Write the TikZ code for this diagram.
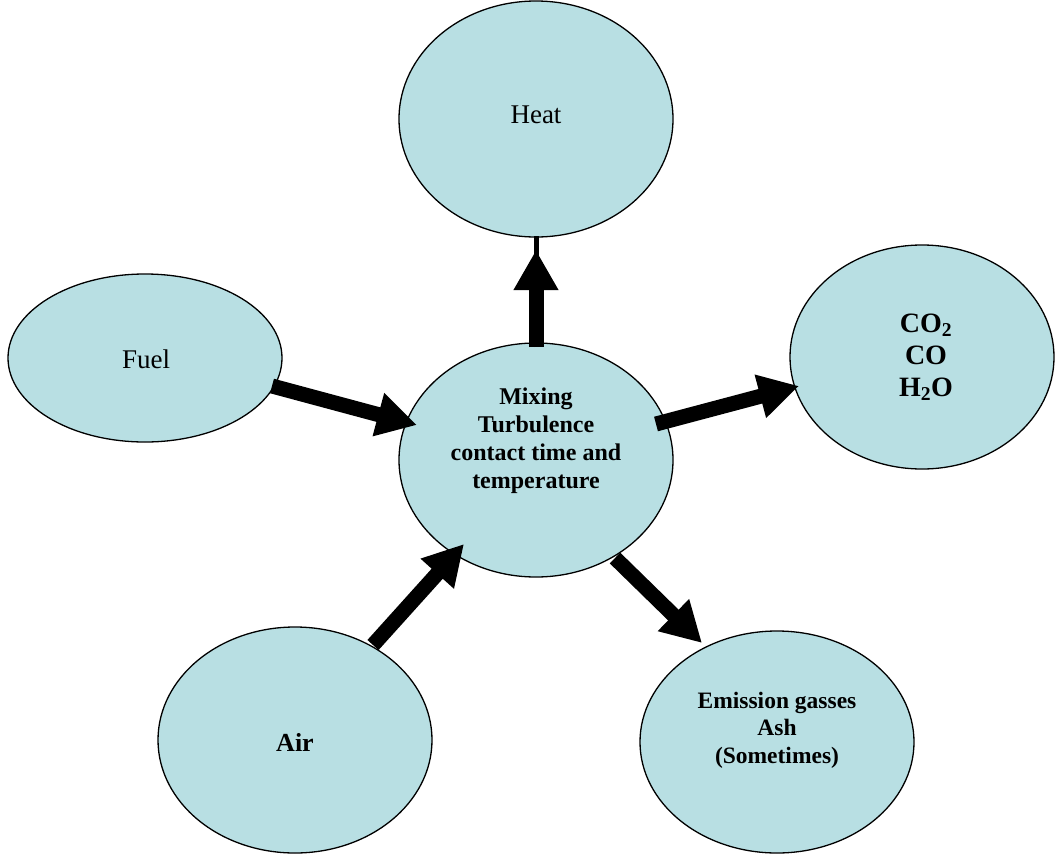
\documentclass[tikz,border=0pt]{standalone}
\usepackage{fontspec}
\setmainfont{Liberation Serif}
\usetikzlibrary{shapes.geometric,arrows.meta}
\definecolor{bubble}{RGB}{184,223,227}
\tikzset{
  bub/.style={ellipse, draw=black, line width=1.3pt, fill=bubble, inner sep=0pt},
  lbl/.style={align=center, text=black, inner sep=0pt},
  bigarrow/.style={line width=15pt, -{Triangle[length=40pt,width=42pt]}},
  thinline/.style={line width=5pt}
}
\begin{document}
\begin{tikzpicture}[x=1pt,y=-1pt]
\useasboundingbox (0,0) rectangle (1055,854);
% bubbles
\node[bub, minimum width=274pt, minimum height=236pt] (heat) at (536,119) {};
\node[bub, minimum width=274pt, minimum height=168pt] (fuel) at (145,358) {};
\node[bub, minimum width=274pt, minimum height=234pt] (mix) at (536,460) {};
\node[bub, minimum width=264pt, minimum height=224pt] (co) at (922,357) {};
\node[bub, minimum width=274pt, minimum height=226pt] (air) at (295,740) {};
\node[bub, minimum width=274pt, minimum height=222pt] (emis) at (777,742) {};
% texts
\node[lbl, font=\fontsize{27}{32}\selectfont] (heatt) at (536,115) {Heat};
\node[lbl, font=\fontsize{27}{32}\selectfont] (fuelt) at (146,359) {Fuel};
\node[lbl, font=\fontsize{24}{28}\selectfont\bfseries] (mixt) at (536,441)
  {Mixing\\Turbulence\\contact time and\\temperature};
\node[lbl, font=\fontsize{28}{32}\selectfont\bfseries] (cot) at (926,357)
  {CO\textsubscript{2}\\CO\\H\textsubscript{2}O};
\node[lbl, font=\fontsize{26}{30}\selectfont\bfseries] (airt) at (295,742) {Air};
\node[lbl, font=\fontsize{23.5}{27.5}\selectfont\bfseries] (emist) at (777,730)
  {Emission gasses\\Ash\\(Sometimes)};
% arrow end points
\coordinate (h0) at (536,347);
\coordinate (h1) at (536,250);
\coordinate (ht) at (536,236);
\coordinate (f0) at (272,386);
\coordinate (f1) at (417,425);
\coordinate (c0) at (656,424);
\coordinate (c1) at (799,386);
\coordinate (a0) at (373,645);
\coordinate (a1) at (464,544);
\coordinate (e0) at (615,558);
\coordinate (e1) at (702,643);
% arrows
\draw[thinline] (h0) -- (ht);
\draw[bigarrow] (h0) -- (h1);
\draw[bigarrow] (f0) -- (f1);
\draw[bigarrow] (c0) -- (c1);
\draw[bigarrow] (a0) -- (a1);
\draw[bigarrow] (e0) -- (e1);
\end{tikzpicture}
\end{document}
